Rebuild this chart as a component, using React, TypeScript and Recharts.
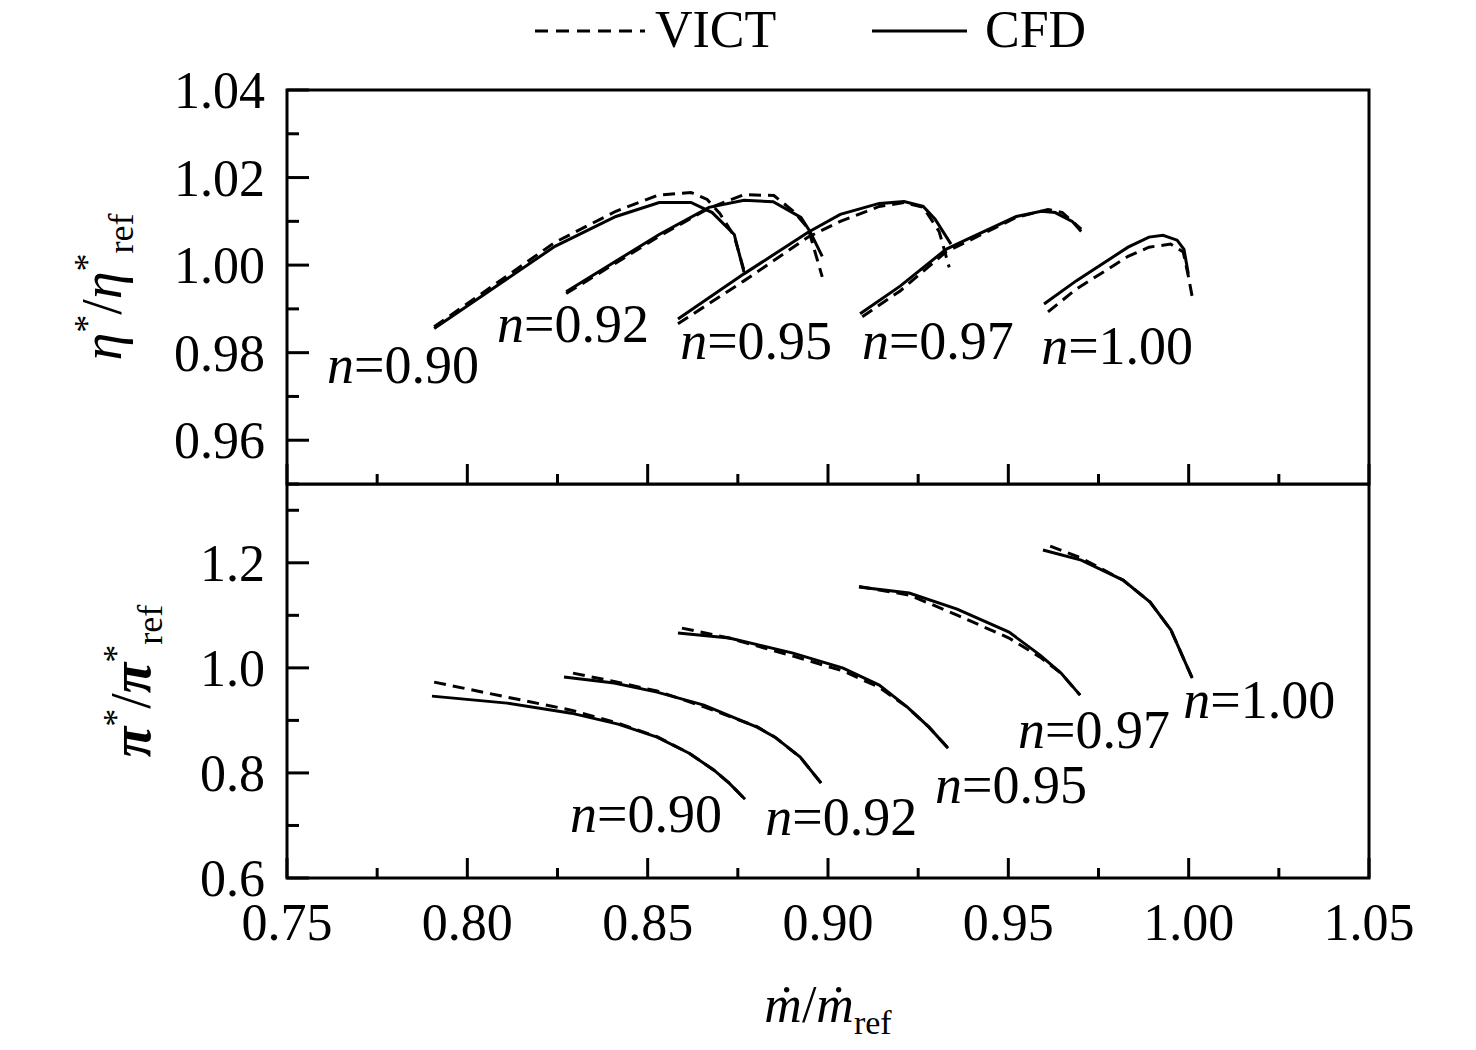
import React from 'react';
import { LineChart, Line, XAxis, YAxis, ReferenceArea, ReferenceDot } from 'recharts';

// 効率と圧力比の特性線 (VICT vs CFD)
type Pt = [number, number];

const speeds = ['0.90', '0.92', '0.95', '0.97', '1.00'];

// 上段: η*/η*ref
const eta090Cfd: Pt[] = [[0.7908, 0.9855], [0.8243, 1.0043], [0.8412, 1.0111], [0.8532, 1.0143], [0.8620, 1.0143], [0.8679, 1.0120], [0.8740, 1.0070], [0.8767, 0.9984]];
const eta090Vict: Pt[] = [[0.7908, 0.9859], [0.8243, 1.0052], [0.8412, 1.0123], [0.8530, 1.0160], [0.8620, 1.0166], [0.8665, 1.0150], [0.8700, 1.0118], [0.8740, 1.0066], [0.8767, 0.9988]];
const eta092Cfd: Pt[] = [[0.8274, 0.9939], [0.8532, 1.0070], [0.8670, 1.0132], [0.8767, 1.0148], [0.8848, 1.0145], [0.8925, 1.0109], [0.8950, 1.0077], [0.8984, 1.0020]];
const eta092Vict: Pt[] = [[0.8274, 0.9935], [0.8532, 1.0066], [0.8670, 1.0130], [0.8767, 1.0161], [0.8850, 1.0159], [0.8904, 1.0123], [0.8945, 1.0084], [0.8984, 0.9973]];
const eta095Cfd: Pt[] = [[0.8584, 0.9877], [0.8767, 0.9980], [0.8945, 1.0075], [0.9034, 1.0116], [0.9142, 1.0141], [0.9211, 1.0145], [0.9264, 1.0134], [0.9297, 1.0105], [0.9341, 1.0048]];
const eta095Vict: Pt[] = [[0.8584, 0.9866], [0.8767, 0.9964], [0.8945, 1.0064], [0.9034, 1.0100], [0.9142, 1.0134], [0.9211, 1.0143], [0.9264, 1.0132], [0.9308, 1.0077], [0.9336, 0.9995]];
const eta097Cfd: Pt[] = [[0.9089, 0.9889], [0.9200, 0.9952], [0.9327, 1.0036], [0.9375, 1.0055], [0.9522, 1.0111], [0.9591, 1.0123], [0.9630, 1.0120], [0.9677, 1.0100], [0.9702, 1.0077]];
const eta097Vict: Pt[] = [[0.9095, 0.9882], [0.9200, 0.9941], [0.9327, 1.0030], [0.9522, 1.0109], [0.9610, 1.0127], [0.9650, 1.0120], [0.9702, 1.0082]];
const eta100Cfd: Pt[] = [[0.9599, 0.9911], [0.9688, 0.9964], [0.9832, 1.0041], [0.9890, 1.0064], [0.9929, 1.0068], [0.9968, 1.0057], [0.9987, 1.0036], [0.9999, 0.9980]];
const eta100Vict: Pt[] = [[0.9610, 0.9893], [0.9688, 0.9945], [0.9832, 1.0020], [0.9890, 1.0041], [0.9950, 1.0048], [0.9985, 1.0030], [0.9999, 0.9975], [1.0012, 0.9918]];

// 下段: π*/π*ref
const pi090Cfd: Pt[] = [[0.7902, 0.9462], [0.8110, 0.9329], [0.8288, 0.9138], [0.8418, 0.8929], [0.8526, 0.8681], [0.8615, 0.8376], [0.8684, 0.8052], [0.8726, 0.7805], [0.8770, 0.7500]];
const pi090Vict: Pt[] = [[0.7908, 0.9729], [0.8110, 0.9443], [0.8288, 0.9195], [0.8418, 0.8948], [0.8526, 0.8690], [0.8615, 0.8376], [0.8684, 0.8052], [0.8726, 0.7805], [0.8770, 0.7500]];
const pi092Cfd: Pt[] = [[0.8268, 0.9824], [0.8407, 0.9710], [0.8526, 0.9538], [0.8656, 0.9290], [0.8803, 0.8871], [0.8853, 0.8681], [0.8923, 0.8300], [0.8981, 0.7805]];
const pi092Vict: Pt[] = [[0.8293, 0.9900], [0.8407, 0.9740], [0.8526, 0.9560], [0.8656, 0.9260], [0.8803, 0.8880], [0.8853, 0.8681], [0.8923, 0.8300], [0.8981, 0.7805]];
const pi095Cfd: Pt[] = [[0.8584, 1.0662], [0.8726, 1.0567], [0.8903, 1.0281], [0.9042, 0.9995], [0.9142, 0.9671], [0.9220, 0.9252], [0.9280, 0.8871], [0.9333, 0.8471]];
const pi095Vict: Pt[] = [[0.8595, 1.0757], [0.8726, 1.0567], [0.8903, 1.0225], [0.9042, 0.9940], [0.9142, 0.9630], [0.9220, 0.9252], [0.9280, 0.8871], [0.9333, 0.8471]];
const pi097Cfd: Pt[] = [[0.9086, 1.1538], [0.9225, 1.1424], [0.9358, 1.1119], [0.9502, 1.0681], [0.9588, 1.0243], [0.9646, 0.9900], [0.9699, 0.9481]];
const pi097Vict: Pt[] = [[0.9086, 1.1550], [0.9225, 1.1386], [0.9358, 1.1005], [0.9502, 1.0567], [0.9588, 1.0205], [0.9646, 0.9900], [0.9699, 0.9481]];
const pi100Cfd: Pt[] = [[0.9596, 1.2243], [0.9702, 1.2052], [0.9818, 1.1671], [0.9893, 1.1252], [0.9951, 1.0719], [0.9984, 1.0205], [1.0010, 0.9805]];
const pi100Vict: Pt[] = [[0.9616, 1.2319], [0.9702, 1.2090], [0.9818, 1.1671], [0.9893, 1.1252], [0.9951, 1.0719], [0.9984, 1.0205], [1.0010, 0.9805]];

// ラベル位置 (データ座標, 文字の左下)
const etaLabelPos: Pt[] = [[0.7611, 0.9730], [0.8082, 0.9825], [0.8590, 0.9786], [0.9094, 0.9786], [0.9591, 0.9773]];
const piLabelPos: Pt[] = [[0.8285, 0.6871], [0.8826, 0.6814], [0.9297, 0.7424], [0.9527, 0.8471], [0.9985, 0.9043]];

// 目盛り
const xMajor = [0.75, 0.8, 0.85, 0.9, 0.95, 1.0, 1.05];
const xMinor = [0.775, 0.825, 0.875, 0.925, 0.975, 1.025];
const etaMajor = [0.96, 0.98, 1.0, 1.02, 1.04];
const etaMinor = [0.95, 0.97, 0.99, 1.01, 1.03];
const piMajor = [0.6, 0.8, 1.0, 1.2];
const piMinor = [0.7, 0.9, 1.1, 1.3];

const etaCfd = [eta090Cfd, eta092Cfd, eta095Cfd, eta097Cfd, eta100Cfd];
const etaVict = [eta090Vict, eta092Vict, eta095Vict, eta097Vict, eta100Vict];
const piCfd = [pi090Cfd, pi092Cfd, pi095Cfd, pi097Cfd, pi100Cfd];
const piVict = [pi090Vict, pi092Vict, pi095Vict, pi097Vict, pi100Vict];

const FONT = '"Liberation Serif", "Times New Roman", serif';
const toRows = (pts: Pt[]) => pts.map(([x, y]) => ({ x, y }));
const isMajor = (v: number, majors: number[]) => majors.some((m) => Math.abs(m - v) < 1e-6);

const xTick = (showLabel: boolean) => (props: any) => {
  const { x, y, payload } = props;
  const major = isMajor(payload.value, xMajor);
  return (
    <g>
      <line x1={x} y1={y} x2={x} y2={y - (major ? 20 : 10)} stroke="#000" strokeWidth={3} />
      {showLabel && major && (
        <text x={x} y={y + 62} textAnchor="middle" fontSize={52} fontFamily={FONT} fill="#000">
          {payload.value.toFixed(2)}
        </text>
      )}
    </g>
  );
};

const yTick = (majors: number[], digits: number) => (props: any) => {
  const { x, y, payload } = props;
  const major = isMajor(payload.value, majors);
  return (
    <g>
      <line x1={x} y1={y} x2={x + (major ? 22 : 12)} y2={y} stroke="#000" strokeWidth={3} />
      {major && (
        <text x={x - 22} y={y + 18} textAnchor="end" fontSize={52} fontFamily={FONT} fill="#000">
          {payload.value.toFixed(digits)}
        </text>
      )}
    </g>
  );
};

const yTitle = (sym: string, baseX: number, weight: string) => (props: any) => {
  const vb = props.viewBox;
  const cx = vb.x + baseX;
  const cy = vb.y + vb.height / 2;
  return (
    <text x={cx} y={cy} transform={`rotate(-90, ${cx}, ${cy})`} textAnchor="middle" fontFamily={FONT} fill="#000">
      <tspan fontSize={56} fontStyle="italic" fontWeight={weight}>{sym}</tspan>
      <tspan fontSize={36} dy={-22}>*</tspan>
      <tspan fontSize={56} dy={22}>/</tspan>
      <tspan fontSize={56} fontStyle="italic" fontWeight={weight}>{sym}</tspan>
      <tspan fontSize={36} dy={-22}>*</tspan>
      <tspan fontSize={36} dy={34}>ref</tspan>
    </text>
  );
};

const xTitle = (props: any) => {
  const vb = props.viewBox;
  const cx = vb.x + vb.width / 2;
  const by = vb.y + 144;
  return (
    <text x={cx} y={by} textAnchor="middle" fontFamily={FONT} fill="#000">
      <tspan fontSize={52} fontStyle="italic">ṁ</tspan>
      <tspan fontSize={52}>/</tspan>
      <tspan fontSize={52} fontStyle="italic">ṁ</tspan>
      <tspan fontSize={34} dy={12}>ref</tspan>
    </text>
  );
};

const speedLabel = (text: string) => (props: any) => (
  <text x={props.cx} y={props.cy} fontSize={54} fontFamily={FONT} fill="#000">
    <tspan fontStyle="italic">n</tspan>=<tspan>{text}</tspan>
  </text>
);

const Curves = (cfd: Pt[][], vict: Pt[][], prefix: string) => [
  ...vict.map((pts, i) => (
    <Line key={`${prefix}v${i}`} data={toRows(pts)} dataKey="y" type="linear" stroke="#000" strokeWidth={3}
      strokeDasharray="12 7" dot={false} activeDot={false} isAnimationActive={false} />
  )),
  ...cfd.map((pts, i) => (
    <Line key={`${prefix}c${i}`} data={toRows(pts)} dataKey="y" type="linear" stroke="#000" strokeWidth={3}
      dot={false} activeDot={false} isAnimationActive={false} />
  )),
];

const Legend = () => (
  <svg width={1476} height={80} style={{ position: 'absolute', left: 0, top: 0 }}>
    <line x1={535} y1={31} x2={645} y2={31} stroke="#000" strokeWidth={3} strokeDasharray="13 8" />
    <text x={655} y={47} fontSize={52} fontFamily={FONT} fill="#000">VICT</text>
    <line x1={872} y1={31} x2={967} y2={31} stroke="#000" strokeWidth={3} />
    <text x={985} y={47} fontSize={52} fontFamily={FONT} fill="#000">CFD</text>
  </svg>
);

export default function App() {
  return (
    <div style={{ position: 'absolute', left: 0, top: 0, width: 1476, height: 1050, background: '#fff' }}>
      {/* 上段 */}
      <div style={{ position: 'absolute', left: 0, top: 0 }}>
        <LineChart width={1476} height={500} margin={{ top: 90, right: 107, bottom: 0, left: 0 }}>
          <XAxis type="number" dataKey="x" domain={[0.75, 1.05]} ticks={[...xMajor, ...xMinor]} interval={0}
            height={16} axisLine={false} tickLine={false} tickSize={0} tickMargin={0} tick={xTick(false)} allowDataOverflow />
          <YAxis type="number" domain={[0.95, 1.04]} ticks={[...etaMajor, ...etaMinor]} interval={0}
            width={287} axisLine={false} tickLine={false} tickSize={0} tickMargin={0} tick={yTick(etaMajor, 2)}
            allowDataOverflow label={{ content: yTitle('η', 121, 'normal') }} />
          <ReferenceArea x1={0.75} x2={1.05} y1={0.95} y2={1.04} fill="none" stroke="#000" strokeWidth={3} ifOverflow="visible" />
          {Curves(etaCfd, etaVict, 'e')}
          {etaLabelPos.map(([x, y], i) => (
            <ReferenceDot key={`el${i}`} x={x} y={y} r={0} ifOverflow="visible" shape={speedLabel(speeds[i])} />
          ))}
        </LineChart>
      </div>
      {/* 下段 */}
      <div style={{ position: 'absolute', left: 0, top: 484 }}>
        <LineChart width={1476} height={566} margin={{ top: 0, right: 107, bottom: 0, left: 0 }}>
          <XAxis type="number" dataKey="x" domain={[0.75, 1.05]} ticks={[...xMajor, ...xMinor]} interval={0}
            height={172} axisLine={false} tickLine={false} tickSize={0} tickMargin={0} tick={xTick(true)}
            allowDataOverflow label={{ content: xTitle }} />
          <YAxis type="number" domain={[0.6, 1.35]} ticks={[...piMajor, ...piMinor]} interval={0}
            width={287} axisLine={false} tickLine={false} tickSize={0} tickMargin={0} tick={yTick(piMajor, 1)}
            allowDataOverflow label={{ content: yTitle('π', 150, 'bold') }} />
          <ReferenceArea x1={0.75} x2={1.05} y1={0.6} y2={1.35} fill="none" stroke="#000" strokeWidth={3} ifOverflow="visible" />
          {Curves(piCfd, piVict, 'p')}
          {piLabelPos.map(([x, y], i) => (
            <ReferenceDot key={`pl${i}`} x={x} y={y} r={0} ifOverflow="visible" shape={speedLabel(speeds[i])} />
          ))}
        </LineChart>
      </div>
      <Legend />
    </div>
  );
}
